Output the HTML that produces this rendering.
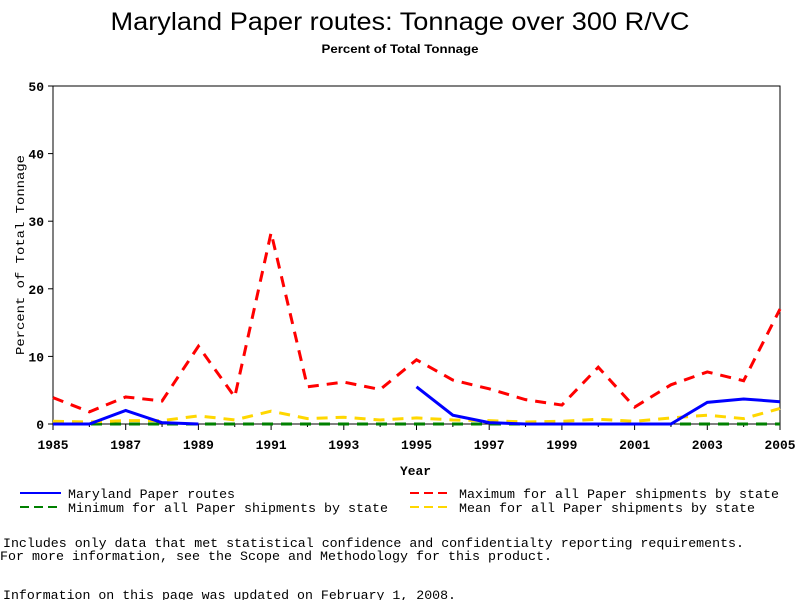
<!DOCTYPE html>
<html><head><meta charset="utf-8"><style>
html,body{margin:0;padding:0;background:#fff;}
svg{display:block;}
text{font-family:"Liberation Mono",monospace;}
</style></head><body>
<svg id="s" width="800" height="600" xmlns="http://www.w3.org/2000/svg">
<text x="400" y="30" text-anchor="middle" font-family="Liberation Sans, sans-serif" style="font-family:'Liberation Sans',sans-serif" font-size="25" textLength="579" lengthAdjust="spacingAndGlyphs">Maryland Paper routes: Tonnage over 300 R/VC</text>
<text x="400" y="53" text-anchor="middle" style="font-family:'Liberation Sans',sans-serif" font-size="12" font-weight="bold" textLength="157" lengthAdjust="spacingAndGlyphs">Percent of Total Tonnage</text>
<rect x="53" y="86" width="727" height="338" fill="none" stroke="#000" stroke-width="1"/>
<g id="ticks"></g>
<g id="lines" fill="none" stroke-width="3"></g>
<text x="24" y="255" transform="rotate(-90 24 255)" text-anchor="middle" font-size="12" textLength="200" lengthAdjust="spacingAndGlyphs">Percent of Total Tonnage</text>
<text x="400" y="475" font-size="13" font-weight="bold" textLength="31" lengthAdjust="spacingAndGlyphs">Year</text>
<line x1="20" y1="493" x2="61" y2="493" stroke="#00f" stroke-width="2"/>
<text x="68" y="498" font-size="13" textLength="167" lengthAdjust="spacingAndGlyphs">Maryland Paper routes</text>
<line x1="20" y1="507" x2="61" y2="507" stroke="#008000" stroke-width="2" stroke-dasharray="9,5"/>
<text x="68" y="512" font-size="13" textLength="320" lengthAdjust="spacingAndGlyphs">Minimum for all Paper shipments by state</text>
<line x1="410" y1="493" x2="452" y2="493" stroke="#f00" stroke-width="2" stroke-dasharray="9,5"/>
<text x="459" y="498" font-size="13" textLength="320" lengthAdjust="spacingAndGlyphs">Maximum for all Paper shipments by state</text>
<line x1="410" y1="507" x2="452" y2="507" stroke="#ffd700" stroke-width="2" stroke-dasharray="9,5"/>
<text x="459" y="512" font-size="13" textLength="296" lengthAdjust="spacingAndGlyphs">Mean for all Paper shipments by state</text>
<text x="3" y="547" font-size="13" textLength="741" lengthAdjust="spacingAndGlyphs">Includes only data that met statistical confidence and confidentialty reporting requirements.</text>
<text x="0" y="560" font-size="13" textLength="552" lengthAdjust="spacingAndGlyphs">For more information, see the Scope and Methodology for this product.</text>
<text x="3" y="599" font-size="13" textLength="453" lengthAdjust="spacingAndGlyphs">Information on this page was updated on February 1, 2008.</text>
</svg>
<script>
var NS="http://www.w3.org/2000/svg";
function X(yr){return 53+(yr-1985)*36.35;}
function Y(v){return 424-v*6.76;}
function el(t,a,p){var e=document.createElementNS(NS,t);for(var k in a)e.setAttribute(k,a[k]);p.appendChild(e);return e;}
var tk=document.getElementById("ticks");
for(var v=0;v<=50;v+=10){el("line",{x1:48,x2:53,y1:Y(v),y2:Y(v),stroke:"#000"},tk);var t=el("text",{x:44,y:Y(v)+5,"text-anchor":"end","font-size":"13","font-weight":"bold"},tk);t.textContent=v;}
for(var yr=1985;yr<=2005;yr++){el("line",{x1:X(yr),x2:X(yr),y1:424,y2:yr%2?430:427,stroke:"#000"},tk);
if(yr%2){var t=el("text",{x:X(yr),y:449,"text-anchor":"middle","font-size":"13","font-weight":"bold",textLength:"31",lengthAdjust:"spacingAndGlyphs"},tk);t.textContent=yr;}}
var L=document.getElementById("lines");
function pl(d,st,dash){var p=d.map(function(v,i){return v==null?null:X(1985+i)+","+Y(v);});
var segs=[],cur=[];p.forEach(function(q){if(q==null){if(cur.length)segs.push(cur);cur=[];}else cur.push(q);});if(cur.length)segs.push(cur);
segs.forEach(function(s){var a={points:s.join(" "),stroke:st};if(dash)a["stroke-dasharray"]=dash;el("polyline",a,L);});}
pl(Array(21).fill(0),"#008000","11,8");
pl([0.4,0.3,0.5,0.5,1.2,0.6,1.9,0.8,1.0,0.6,0.9,0.6,0.5,0.3,0.4,0.7,0.4,0.9,1.3,0.8,2.3],"#ffd700","11,8");
pl([3.9,1.8,4,3.4,11.5,4,28.3,5.5,6.2,5.1,9.5,6.5,5.2,3.6,2.8,8.4,2.5,5.8,7.7,6.4,17],"#f00","11,8");
pl([0,0,2,0.2,0,null,null,null,null,null,5.5,1.3,0.2,0,0,0,0,0,3.2,3.7,3.3],"#00f",null);
</script>
</body></html>
